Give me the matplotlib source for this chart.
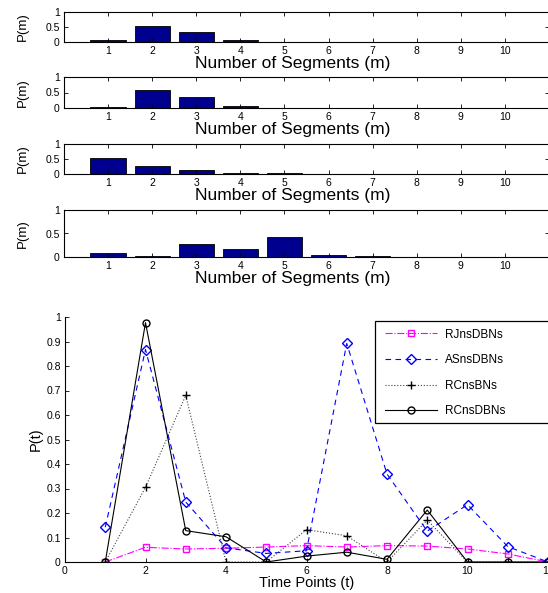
import matplotlib
matplotlib.use('Agg')
import matplotlib.pyplot as plt
from matplotlib.patches import Rectangle

plt.rcParams['font.family'] = ['Liberation Sans', 'DejaVu Sans']

# segment distributions, m = 1..10
segments = [1, 2, 3, 4, 5, 6, 7, 8, 9, 10]
p_seg1 = [0.07, 0.52, 0.33, 0.06, 0.01, 0.005, 0.003, 0.002, 0.002, 0.001]
p_seg2 = [0.02, 0.57, 0.36, 0.07, 0.01, 0.005, 0.002, 0.001, 0.001, 0.0]
p_seg3 = [0.54, 0.27, 0.15, 0.04, 0.02, 0.005, 0.002, 0.001, 0.0, 0.0]
p_seg4 = [0.08, 0.02, 0.27, 0.16, 0.42, 0.04, 0.02, 0.01, 0.005, 0.002]

# changepoint probabilities over time
time_points = [1, 2, 3, 4, 5, 6, 7, 8, 9, 10, 11, 12]
rjns_dbns = [0.0, 0.060, 0.053, 0.056, 0.061, 0.067, 0.061, 0.067, 0.065, 0.053, 0.033, 0.0]
asns_dbns = [0.142, 0.867, 0.245, 0.058, 0.035, 0.046, 0.892, 0.359, 0.126, 0.234, 0.063, 0.0]
rcns_bns = [0.0, 0.305, 0.680, 0.0, 0.0, 0.132, 0.107, 0.0, 0.171, 0.0, 0.0, 0.0]
rcns_dbns = [0.0, 0.977, 0.128, 0.103, 0.0, 0.024, 0.040, 0.011, 0.212, 0.0, 0.0, 0.0]

W, H = 548, 593
fig = plt.figure(figsize=(W / 100, H / 100), dpi=100)

def frac(left, top, right, bottom):
    return [left / W, 1 - bottom / H, (right - left) / W, (bottom - top) / H]

bar_boxes = [(64, 12, 549, 42), (64, 77, 549, 108), (64, 144, 549, 174), (64, 210, 549, 257)]
for box, vals in zip(bar_boxes, [p_seg1, p_seg2, p_seg3, p_seg4]):
    ax = fig.add_axes(frac(*box))
    h = box[3] - box[1]
    ax.bar(segments, vals, width=0.8, color='#00008f', edgecolor='black', linewidth=0.6)
    ax.set_xlim(0, 11)
    ax.set_ylim(0, 1)
    ax.set_xticks(segments)
    ax.set_yticks([0, 0.5, 1])
    ax.set_yticklabels(['0', '0.5', '1'])
    ax.tick_params(direction='in', top=True, right=True, labelsize=7.5, length=3, width=0.6, pad=3)
    ax.set_xlabel('Number of Segments (m)', fontsize=12.5)
    ax.xaxis.set_label_coords(0.472, -26 / h)
    ax.xaxis.label.set_verticalalignment('baseline')
    ax.set_ylabel('P(m)', fontsize=9.5)
    ax.yaxis.set_label_coords(-0.072, 0.5)
    for s in ax.spines.values():
        s.set_linewidth(0.8)

ax = fig.add_axes(frac(65, 317, 548, 562))
ax.plot(time_points, rjns_dbns, color='magenta', linestyle='-.', marker='s', markersize=5,
        markerfacecolor='none', linewidth=0.8, label='RJnsDBNs')
ax.plot(time_points, asns_dbns, color='blue', linestyle='--', marker='D', markersize=5,
        markerfacecolor='none', linewidth=0.8, dashes=(5, 4), label='ASnsDBNs')
ax.plot(time_points, rcns_bns, color='0.25', linestyle=':', marker='+', markersize=6,
        markeredgecolor='black', linewidth=0.8, label='RCnsBNs')
ax.plot(time_points, rcns_dbns, color='black', linestyle='-', marker='o', markersize=5,
        markerfacecolor='none', linewidth=0.8, label='RCnsDBNs')
ax.set_xlim(0, 12)
ax.set_ylim(0, 1)
ax.set_xticks(range(0, 13, 2))
ax.set_yticks([i / 10 for i in range(11)])
ax.set_yticklabels(['0', '0.1', '0.2', '0.3', '0.4', '0.5', '0.6', '0.7', '0.8', '0.9', '1'])
ax.tick_params(direction='in', labelsize=7.5, length=3, width=0.6, pad=3)
ax.spines['top'].set_visible(False)
ax.spines['right'].set_visible(False)
ax.set_xlabel('Time Points (t)', fontsize=10.5)
ax.xaxis.set_label_coords(0.5, -14 / 245)
ax.set_ylabel('P(t)', fontsize=10.5)
ax.yaxis.set_label_coords(-0.0455, 0.5)

leg = ax.legend(loc='upper left', bbox_to_anchor=(0.652, 0.972), frameon=False,
                fontsize=8.5, handlelength=4.4, handletextpad=0.7, labelspacing=1.15,
                borderaxespad=0)
frame = Rectangle(((375 - 65) / 483, (562 - 423) / 245), 0.5, (423 - 321) / 245,
                  transform=ax.transAxes, fill=True, facecolor='white', edgecolor='black',
                  linewidth=0.9, clip_on=False, zorder=4)
ax.add_patch(frame)
leg.set_zorder(5)

fig.savefig('out.png', dpi=100)
